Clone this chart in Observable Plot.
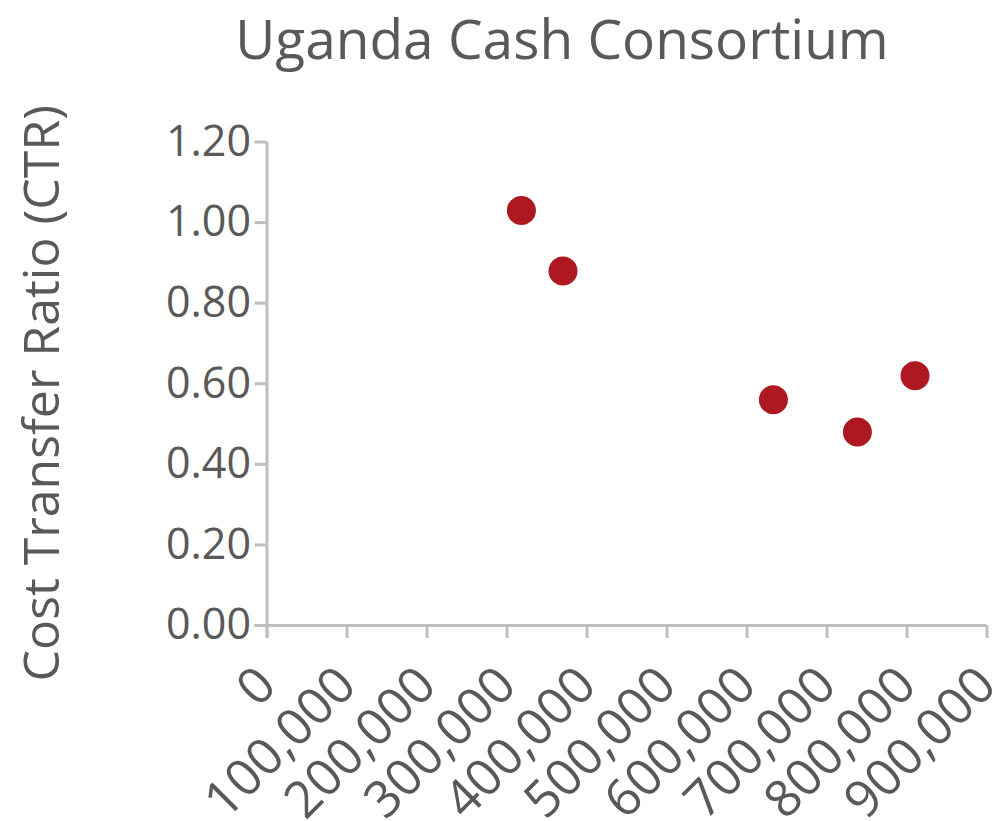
<!DOCTYPE html>
<html>
<head>
<meta charset="utf-8">
<script src="https://cdn.jsdelivr.net/npm/d3@7"></script>
<script src="https://cdn.jsdelivr.net/npm/@observablehq/plot@0.6"></script>
<style>
  html, body { margin: 0; padding: 0; background: #fff; }
  #wrap { position: relative; width: 999px; height: 821px; overflow: hidden; font-family: "Open Sans", sans-serif; }
  #title { position: absolute; left: 0; top: 0; width: 999px; height: 90px; text-align: center; box-sizing: border-box; padding-left: 125px;
           font-size: 55px; line-height: 76px; color: #595959; white-space: nowrap; }
  #chart { position: absolute; left: 0; top: 90px; }
</style>
</head>
<body>
<div id="wrap">
  <div id="title">Uganda Cash Consortium</div>
  <div id="chart"></div>
</div>
<script>
const title = "Uganda Cash Consortium";
const yLabel = "Cost Transfer Ratio (CTR)";
const beneficiaries = [318000, 370000, 633000, 738000, 810000];
const ctr = [1.03, 0.88, 0.56, 0.48, 0.62];
const xTicks = [0, 100000, 200000, 300000, 400000, 500000, 600000, 700000, 800000, 900000];
const yTicks = [0, 0.2, 0.4, 0.6, 0.8, 1.0, 1.2];

const data = beneficiaries.map((x, i) => ({x, y: ctr[i]}));
const axisColor = "#bfbfbf";
const textColor = "#595959";
const fmtX = d3.format(",");
const fmtY = d3.format(".2f");

const chart = Plot.plot({
  width: 999,
  height: 731,
  marginLeft: 266.5,
  marginRight: 12.5,
  marginTop: 51.5,
  marginBottom: 196,
  style: {fontFamily: "Open Sans, sans-serif", color: textColor, background: "#fff", overflow: "visible"},
  x: {domain: [0, 900000]},
  y: {domain: [0, 1.2]},
  marks: [
    Plot.ruleY([0], {stroke: axisColor, strokeWidth: 3, x1: -15000, x2: 900000}),
    Plot.ruleX([0], {stroke: axisColor, strokeWidth: 3, y1: -0.03, y2: 1.2}),
    Plot.axisY({ticks: yTicks, tickFormat: fmtY, tickSize: 12, tickPadding: 4, stroke: axisColor, strokeWidth: 3,
                fontSize: 43, fill: textColor, label: null}),
    Plot.axisX({ticks: xTicks, tickFormat: fmtX, tickSize: 13, tickPadding: 38, tickRotate: -45, stroke: axisColor, strokeWidth: 3,
                fontSize: 51, fill: textColor, label: null}),
    Plot.text([yLabel], {frameAnchor: "left", textAnchor: "middle", dx: -224.5, dy: 9.5, rotate: -90, fontSize: 50, fill: textColor}),
    Plot.dot(data, {x: "x", y: "y", r: 14.5, fill: "#ae1820", stroke: "none"})
  ]
});
document.getElementById("chart").appendChild(chart);
</script>
</body>
</html>
